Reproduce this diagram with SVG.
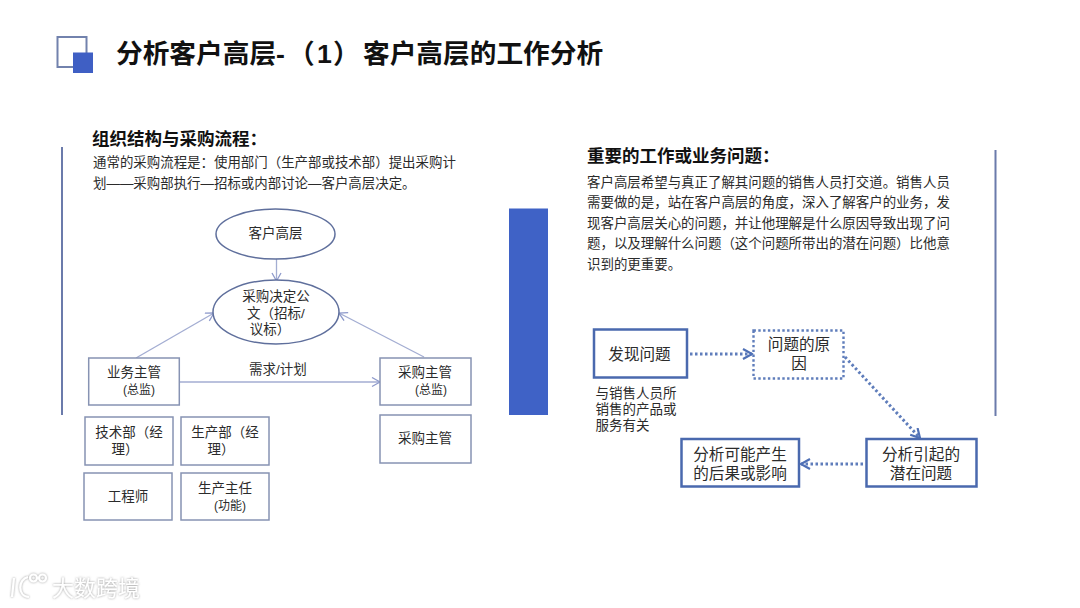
<svg xmlns="http://www.w3.org/2000/svg" width="1080" height="608" viewBox="0 0 1080 608">
<style>
text{font-family:"Liberation Sans","Noto Sans CJK SC",sans-serif;fill:#2b2b2b}
.c{text-anchor:middle}
.title{font-size:26.7px;font-weight:700;fill:#111}
.h{font-size:17.5px;font-weight:700;fill:#111}
.b{font-size:13.45px}
.n{font-size:13.5px}
.s{font-size:12px}
.r{font-size:15.6px}
.box{fill:#fff;stroke:#8793b3;stroke-width:1.5}
.ell{fill:#fff;stroke:#5f6f9c;stroke-width:1.5}
.sb{fill:#fff;stroke:#4a69ae;stroke-width:2.500}
.ln{stroke:#6b7bab;stroke-width:2;fill:none}
.conn{fill:none;stroke:#a3add2;stroke-width:1.3}
.dot{fill:none;stroke:#5f7dbb;stroke-width:3;stroke-dasharray:2.5 2.5}
.wm{font-size:22px;fill:#fff}
.lg{fill:none;stroke:#fff;stroke-width:2.200}
</style>
<defs>
<marker id="a" markerUnits="userSpaceOnUse" markerWidth="12" markerHeight="12" refX="9" refY="5" orient="auto"><path d="M1 0.5L9 5L1 9.5" fill="none" stroke="#8e9acb" stroke-width="1.3"/></marker>
<marker id="d" markerUnits="userSpaceOnUse" markerWidth="14" markerHeight="14" refX="10" refY="6" orient="auto"><path d="M1 1L10 6L1 11" fill="none" stroke="#4f70b6" stroke-width="2.2"/></marker>
<filter id="halo" x="-20%" y="-40%" width="140%" height="180%"><feDropShadow dx="0" dy="0" stdDeviation="1.300" flood-color="#8a8a8a" flood-opacity="0.9"/></filter>
</defs>
<rect width="1080" height="608" fill="#fff"/>
<g id="title-icon">
<rect x="57.500" y="37" width="29" height="30" fill="#fff" stroke="#7282ad" stroke-width="2"/>
<rect x="73" y="52.500" width="20" height="20.500" fill="#3f5fc4"/>
</g>
<text class="title" x="116" y="63">分析客户高层-<tspan x="288">（</tspan><tspan x="317">1</tspan><tspan x="333">）</tspan><tspan x="363">客户高层的工作分析</tspan></text>
<line class="ln" x1="62" y1="147" x2="62" y2="415"/>
<line class="ln" x1="995.500" y1="150" x2="995.500" y2="416"/>
<rect x="509" y="208.500" width="39" height="206.500" fill="#3f62c6"/>

<g id="left-text">
<text class="h" x="92" y="145">组织结构与采购流程：</text>
<text class="b" x="93" y="167">通常的采购流程是：使用部门（生产部或技术部）提出采购计</text>
<text class="b" x="93" y="188">划——采购部执行—招标或内部讨论—客户高层决定。</text>
</g>
<g id="right-text">
<text class="h" x="587" y="162">重要的工作或业务问题：</text>
<text class="b" x="587" y="187">客户高层希望与真正了解其问题的销售人员打交道。销售人员</text>
<text class="b" x="587" y="207">需要做的是，站在客户高层的角度，深入了解客户的业务，发</text>
<text class="b" x="587" y="228">现客户高层关心的问题，并让他理解是什么原因导致出现了问</text>
<text class="b" x="587" y="248">题，以及理解什么问题（这个问题所带出的潜在问题）比他意</text>
<text class="b" x="587" y="269">识到的更重要。</text>
</g>

<g id="connectors">
<line class="conn" x1="276.500" y1="259" x2="276.500" y2="281" marker-end="url(#a)"/>
<line class="conn" x1="136" y1="358" x2="214" y2="313" marker-end="url(#a)"/>
<line class="conn" x1="424" y1="357" x2="339" y2="313" marker-end="url(#a)"/>
<line class="conn" x1="180" y1="382" x2="380" y2="382" marker-end="url(#a)"/>
<line class="dot" x1="690" y1="354" x2="752" y2="354" marker-end="url(#d)"/>
<line class="dot" x1="845" y1="357" x2="920" y2="438" marker-end="url(#d)"/>
<line class="dot" x1="863" y1="464" x2="801" y2="464" marker-end="url(#d)"/>
<text class="n c" x="278" y="374">需求/计划</text>
</g>

<g id="n-top"><ellipse class="ell" cx="275.500" cy="234" rx="59.500" ry="25"/><text class="n c" x="275.500" y="238">客户高层</text></g>
<g id="n-doc"><ellipse class="ell" cx="276" cy="312" rx="63" ry="32"/>
<text class="n c" x="276" y="301">采购决定公</text><text class="n c" x="276" y="318">文（招标/</text><text class="n c" x="270" y="334">议标）</text></g>
<g id="n-biz"><rect class="box" x="88.700" y="358" width="90.600" height="47"/><text class="n c" x="134" y="377">业务主管</text><text class="s c" x="139" y="394">(总监)</text></g>
<g id="n-pur"><rect class="box" x="380" y="358" width="91" height="47"/><text class="n c" x="425" y="377">采购主管</text><text class="s c" x="431" y="394">(总监)</text></g>
<g id="n-pur2"><rect class="box" x="380" y="415" width="91" height="48"/><text class="n c" x="425" y="443">采购主管</text></g>
<g id="n-tech"><rect class="box" x="85" y="417" width="88" height="48"/><text class="n c" x="129" y="437">技术部（经</text><text class="n c" x="125" y="454">理）</text></g>
<g id="n-prod"><rect class="box" x="181" y="417" width="88" height="48"/><text class="n c" x="225" y="437">生产部（经</text><text class="n c" x="221" y="454">理）</text></g>
<g id="n-eng"><rect class="box" x="84" y="473" width="88" height="47"/><text class="n c" x="128" y="501">工程师</text></g>
<g id="n-dir"><rect class="box" x="181" y="473" width="88" height="47"/><text class="n c" x="225" y="493">生产主任</text><text class="s c" x="230" y="510">(功能)</text></g>

<g id="n-find"><rect class="sb" x="594" y="329.500" width="93" height="48"/><text class="r c" x="639.500" y="360">发现问题</text></g>
<g id="n-cause"><rect x="753.500" y="330.500" width="90" height="48" fill="#fff" stroke="#5f7dbb" stroke-width="2.400" stroke-dasharray="2.400 2.400"/><text class="r c" x="799" y="350">问题的原</text><text class="r c" x="799" y="369">因</text></g>
<g id="n-latent"><rect class="sb" x="866.500" y="439" width="110" height="47.500"/><text class="r c" x="921" y="460">分析引起的</text><text class="r c" x="921" y="478.500">潜在问题</text></g>
<g id="n-effect"><rect class="sb" x="681.500" y="439" width="117.500" height="47.500"/><text class="r c" x="740" y="460">分析可能产生</text><text class="r c" x="740" y="478.500">的后果或影响</text></g>
<g id="find-note">
<text class="n" x="595.500" y="398">与销售人员所</text>
<text class="n" x="595.500" y="414">销售的产品或</text>
<text class="n" x="595.500" y="430">服务有关</text>
</g>

<g id="watermark" filter="url(#halo)">
<path class="lg" d="M14 578L12 597"/><path class="lg" d="M28 577C18 579 17 596 29 597"/><circle class="lg" cx="33.500" cy="578" r="3.500"/><circle class="lg" cx="42.500" cy="578" r="3.500"/>
<text class="wm" x="52" y="596">大数跨境</text>
</g>
</svg>
